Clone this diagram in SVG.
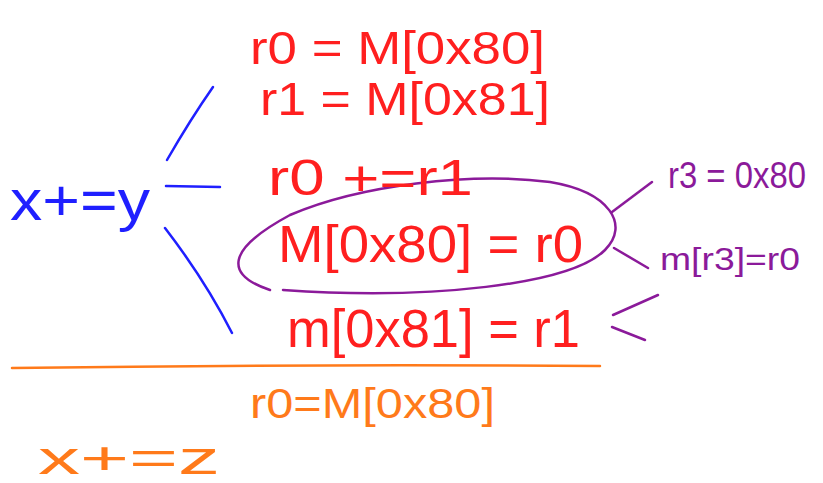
<svg xmlns="http://www.w3.org/2000/svg" width="823" height="483" viewBox="0 0 823 483">
<style>
text{font-family:"Liberation Sans","DejaVu Sans",sans-serif;}
.red{fill:#ff1f1f;}
.blue{fill:#1f1fff;}
.pur{fill:#8b1a9a;}
.org{fill:#ff7a1a;}
.ln{fill:none;stroke-linecap:round;stroke-width:2.5;}
</style>
<rect width="823" height="483" fill="#ffffff"/>
<g id="connectors">
<path class="ln" stroke="#1f1fff" d="M167,160 Q190,120 213,87"/>
<path class="ln" stroke="#1f1fff" d="M166,186 L220,187"/>
<path class="ln" stroke="#1f1fff" d="M165,228 Q205,280 232,333"/>
<path class="ln" stroke="#ff7a1a" d="M12,368 Q300,364 600,366"/>
<path class="ln" stroke="#8b1a9a" stroke-width="2" d="M270,290 C225,275 225,250 290,215 C360,185 470,172 550,182 C610,192 630,225 605,250 C570,285 430,300 283,290"/>
<path class="ln" stroke="#8b1a9a" d="M612,212 L652,182"/>
<path class="ln" stroke="#8b1a9a" d="M614,248 L648,268"/>
<path class="ln" stroke="#8b1a9a" d="M658,295 L613,315"/>
<path class="ln" stroke="#8b1a9a" d="M612,327 L645,340"/>
</g>
<g id="n-xy"><text class="blue" x="10" y="220" font-size="58" textLength="140" lengthAdjust="spacingAndGlyphs">x+=y</text></g>
<g id="n-r0load"><text class="red" x="250" y="64" font-size="46" textLength="295" lengthAdjust="spacingAndGlyphs">r0 = M[0x80]</text></g>
<g id="n-r1load"><text class="red" x="260" y="115" font-size="46" textLength="290" lengthAdjust="spacingAndGlyphs">r1 = M[0x81]</text></g>
<g id="n-add"><text class="red" x="268" y="195" font-size="50" textLength="205" lengthAdjust="spacingAndGlyphs">r0 +=r1</text></g>
<g id="n-store0"><text class="red" x="278" y="262" font-size="52" textLength="305" lengthAdjust="spacingAndGlyphs">M[0x80] = r0</text></g>
<g id="n-store1"><text class="red" x="287" y="347" font-size="54" textLength="293" lengthAdjust="spacingAndGlyphs">m[0x81] = r1</text></g>
<g id="n-r3"><text class="pur" x="668" y="188" font-size="36" textLength="138" lengthAdjust="spacingAndGlyphs">r3 = 0x80</text></g>
<g id="n-mr3"><text class="pur" x="660" y="270" font-size="32" textLength="140" lengthAdjust="spacingAndGlyphs">m[r3]=r0</text></g>
<g id="n-r0z"><text class="org" x="250" y="418" font-size="42" textLength="245" lengthAdjust="spacingAndGlyphs">r0=M[0x80]</text></g>
<g id="n-xz"><text class="org" x="38" y="474" font-size="46" textLength="182" lengthAdjust="spacingAndGlyphs">x+=z</text></g>
</svg>
